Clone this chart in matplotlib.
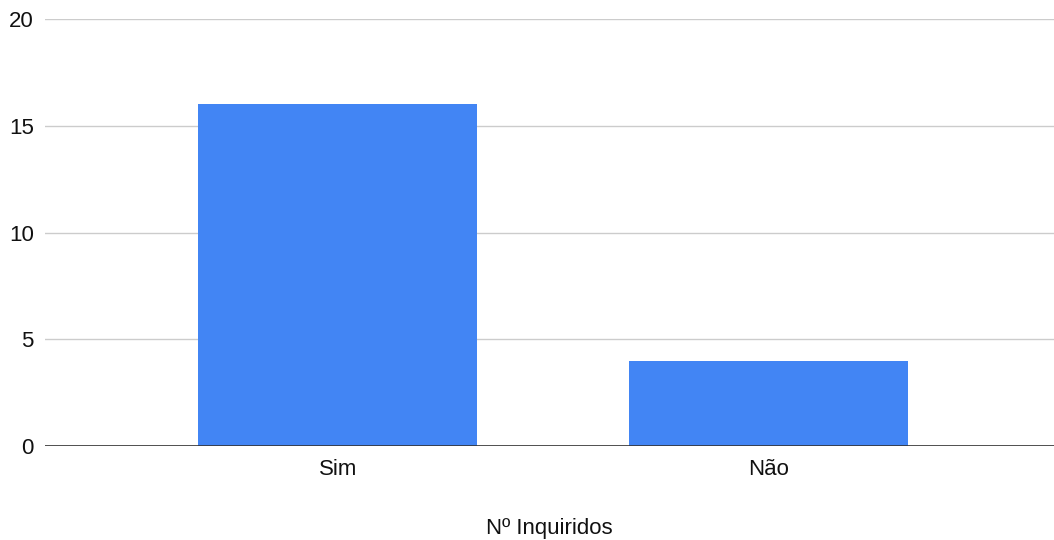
import matplotlib
matplotlib.use("Agg")
import matplotlib.pyplot as plt

categories = ["Sim", "Não"]
respostas = [16, 4]
yticks = [0, 5, 10, 15, 20]

plt.rcParams['font.family'] = ["Liberation Sans", "DejaVu Sans"]
plt.rcParams['font.size'] = 16

fig = plt.figure(figsize=(10.54, 5.4), dpi=100)
ax = fig.add_axes([0.0427, 0.174, 0.9573, 0.7908])

x = list(range(len(categories)))
ax.bar(x, respostas, width=0.647, color="#4285F4", zorder=3)

ax.set_xlim(-0.679, 1.662)
ax.set_ylim(0, 20)
ax.set_yticks(yticks)
ax.set_xticks(x)
ax.set_xticklabels(categories)
ax.yaxis.grid(True, color="#cccccc", linewidth=1, zorder=0)
ax.axhline(0, color="#333333", linewidth=1.2, zorder=4)

for side in ["top", "right", "left", "bottom"]:
    ax.spines[side].set_visible(False)
ax.tick_params(axis="both", length=0, labelsize=16, colors="#111111")
ax.tick_params(axis="x", pad=9)
ax.tick_params(axis="y", pad=8)

ax.set_xlabel("Nº Inquiridos", fontsize=16, color="#111111", labelpad=28)

fig.savefig("out.png", dpi=100)
